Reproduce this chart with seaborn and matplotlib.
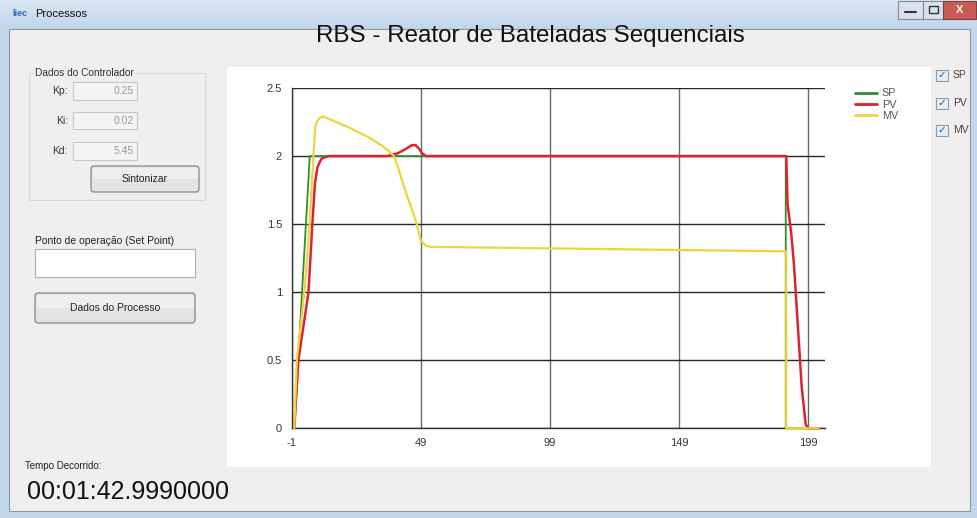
import numpy as np
import pandas as pd
import matplotlib
matplotlib.use('Agg')
import matplotlib.pyplot as plt
from matplotlib.patches import Rectangle, FancyBboxPatch
from matplotlib.lines import Line2D
import seaborn as sns

# curve vertices (t = time step, v = value)
sp_t = [0, 3, 6, 190.3, 190.3, 203]
sp_v = [0, 1.0, 2.0, 2.0, 0.0, 0.0]

pv_t = [0, 1.6, 5.5, 7.0, 8.0, 9.0, 10.5, 13, 36, 40, 43, 45.5, 47, 48.5, 49.5, 51,
        190.5, 191, 192.5, 193.5, 195.5, 196.5, 197.5, 198, 199, 203]
pv_v = [0, 0.5, 1.0, 1.5, 1.8, 1.92, 1.98, 2.0, 2.0, 2.02, 2.05, 2.08, 2.08, 2.05, 2.02, 2.0,
        2.0, 1.65, 1.42, 1.2, 0.6, 0.3, 0.12, 0.03, 0, 0]

mv_t = [0, 1.0, 3.9, 5.9, 7.4, 8.1, 8.7, 9.8, 11.3, 20, 29.5, 34.5, 38.6, 40, 41.2,
        43.8, 46.4, 47.7, 49.0, 51.0, 52.9, 190.5, 190.5, 203]
mv_v = [0, 0.5, 1.0, 1.5, 2.0, 2.21, 2.25, 2.28, 2.29, 2.22, 2.13, 2.07, 2.0, 1.93, 1.85,
        1.70, 1.56, 1.48, 1.38, 1.34, 1.333, 1.30, 0, 0]

series = ['SP', 'PV', 'MV']
colors = {'SP': '#2f8f2f', 'PV': '#d9252f', 'MV': '#f0d43a'}
widths = {'SP': 1.3, 'PV': 1.8, 'MV': 1.6}

x_ticks = [-1, 49, 99, 149, 199]
y_ticks = [0, 0.5, 1, 1.5, 2, 2.5]
y_tick_labels = ['0', '0.5', '1', '1.5', '2', '2.5']

title = 'RBS - Reator de Bateladas Sequenciais'

df = pd.concat([
    pd.DataFrame({'t': sp_t, 'v': sp_v, 'serie': 'SP'}),
    pd.DataFrame({'t': pv_t, 'v': pv_v, 'serie': 'PV'}),
    pd.DataFrame({'t': mv_t, 'v': mv_v, 'serie': 'MV'}),
])

sns.set_style('white')
plt.rcParams['font.family'] = ['Liberation Sans', 'DejaVu Sans']
plt.rcParams['axes.unicode_minus'] = False

W, H = 978, 518
fig = plt.figure(figsize=(W / 100, H / 100), dpi=100)
fig.patch.set_facecolor('#f0efed')

# background axes in pixel coords (y down) for the window chrome
bg = fig.add_axes([0, 0, 1, 1])
bg.set_xlim(0, W)
bg.set_ylim(H, 0)
bg.axis('off')


def rect(x0, y0, x1, y1, fc, ec='none', lw=0.8, z=1):
    bg.add_patch(Rectangle((x0, y0), x1 - x0, y1 - y0, fc=fc, ec=ec, lw=lw, zorder=z))


def button(x0, y0, x1, y1, label):
    bg.add_patch(FancyBboxPatch((x0, y0), x1 - x0, y1 - y0,
                                boxstyle='round,pad=0,rounding_size=3',
                                fc='#e4e4e4', ec='#7a7a7a', lw=0.8, zorder=2))
    bg.add_patch(Rectangle((x0 + 1.5, y0 + 1.5), x1 - x0 - 3, (y1 - y0) / 2 - 1.5,
                           fc='#efefef', ec='none', zorder=2))
    bg.text((x0 + x1) / 2, (y0 + y1) / 2, label, ha='center', va='center',
            fontsize=7.5, color='#222', zorder=3)


# frame + title bar
grad = np.linspace(0, 1, 30).reshape(-1, 1)
bg.imshow(grad, extent=[0, W, 29, 0], cmap=matplotlib.colors.LinearSegmentedColormap.from_list(
    'tb', ['#d8e6f3', '#c2d6eb']), aspect='auto', zorder=0)
rect(0, 29, 9, H, '#c3d6ea')
rect(970, 29, W, H, '#c3d6ea')
rect(0, 511, W, H, '#c3d6ea')
rect(9, 29, 970, 511, '#f0efed', ec='#8898ac', lw=0.8)
bg.text(12, 14, 'liec', fontsize=6.5, color='#2a6ab8', va='center', fontweight='bold')
bg.text(35, 14, 'Processos', fontsize=8, color='#111', va='center')

# window buttons
rect(898, 1, 923, 19, '#d9e3ee', ec='#7c8ba0')
bg.plot([905, 916], [12, 12], color='#333', lw=1.5, zorder=3)
rect(923, 1, 943, 19, '#d9e3ee', ec='#7c8ba0')
rect(928.5, 5.5, 937.5, 13, 'none', ec='#333', lw=1, z=3)
rect(943, 1, 976, 19, '#c95a55', ec='#7c4040')
bg.text(959.5, 10, 'X', fontsize=8, color='white', ha='center', va='center', fontweight='bold', zorder=3)

# chart title
bg.text(530, 36, title, fontsize=17.4, color='#111', ha='center', va='center')

# white chart background
rect(227, 67, 931, 467, 'white')

# controller group
rect(29, 73, 205, 200, 'none', ec='#d6d9dc', lw=0.8)
bg.text(35, 73, 'Dados do Controlador', fontsize=7.3, color='#333', va='center',
        bbox=dict(fc='#f0efed', ec='none', pad=1))
for lab, val, y0, y1 in [('Kp:', '0.25', 82, 100), ('Ki:', '0.02', 112, 129), ('Kd:', '5.45', 142, 160)]:
    bg.text(68, (y0 + y1) / 2, lab, fontsize=7.5, color='#333', ha='right', va='center')
    rect(73, y0, 137, y1, '#f4f4f4', ec='#c6c6c6', z=2)
    bg.text(134, (y0 + y1) / 2, val, fontsize=7.5, color='#9a9a9a', ha='right', va='center', zorder=3)
button(91, 166, 199, 192, 'Sintonizar')

bg.text(35, 241, 'Ponto de operação (Set Point)', fontsize=7.5, color='#222', va='center')
rect(35, 249, 195, 277, 'white', ec='#b0b0b0', z=2)
button(35, 293, 195, 323, 'Dados do Processo')

bg.text(25, 466, 'Tempo Decorrido:', fontsize=7, color='#222', va='center')
bg.text(27, 492, '00:01:42.9990000', fontsize=18, color='#111', va='center')

# checkboxes
for lab, yc in [('SP', 75), ('PV', 103), ('MV', 130)]:
    rect(936, yc - 5.5, 948, yc + 5.5, '#e8eef6', ec='#8a9bb4', z=2)
    bg.text(942, yc, '\u2713', fontsize=7.5, color='#2b4f8c', ha='center', va='center',
            family='DejaVu Sans', zorder=3)
    bg.text(953, yc, lab, fontsize=7.5, color='#444', va='center')

# ---- chart ----
x0p, x1p, y0p, y1p = 291.7, 825, 428.3, 88
ax = fig.add_axes([x0p / W, 1 - y0p / H, (x1p - x0p) / W, (y0p - y1p) / H])
ax.set_facecolor('none')

for s in series:
    sns.lineplot(data=df[df['serie'] == s], x='t', y='v', color=colors[s],
                 linewidth=widths[s], estimator=None, sort=False, legend=False, ax=ax)
for ln in ax.lines:
    ln.set_clip_on(False)
    ln.set_zorder(3)

ax.set_xlim(-1, 205.5)
ax.set_ylim(0, 2.5)
ax.set_xticks(x_ticks)
ax.set_yticks(y_ticks)
ax.set_yticklabels(y_tick_labels)
ax.set_xlabel('')
ax.set_ylabel('')
ax.xaxis.grid(True, color='#6a6a6a', lw=1)
ax.yaxis.grid(True, color='#262626', lw=1)
ax.set_axisbelow(True)
for side in ['top', 'right']:
    ax.spines[side].set_visible(False)
for side in ['left', 'bottom']:
    ax.spines[side].set_color('#333')
    ax.spines[side].set_linewidth(1)
ax.tick_params(axis='both', direction='out', length=5, width=1, color='#333',
               labelsize=8, labelcolor='#333', pad=2)

handles = [Line2D([], [], color=colors[s], lw=2) for s in series]
ax.legend(handles, series, loc='upper left', bbox_to_anchor=(850 / W, 1 - 83 / H),
          bbox_transform=fig.transFigure, frameon=False, fontsize=7.8, handlelength=2,
          handletextpad=0.45, labelspacing=0.12, borderpad=0, labelcolor='#555')

fig.savefig('out.png', dpi=100)
